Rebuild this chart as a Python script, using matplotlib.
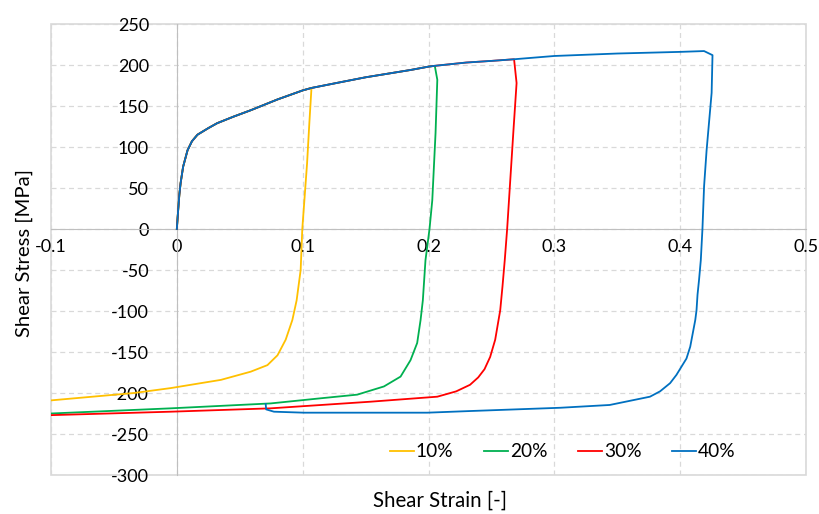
import numpy as np
import matplotlib.pyplot as plt
from matplotlib.patches import Rectangle

plt.rcParams['font.family'] = ['Lato', 'DejaVu Sans']
plt.rcParams['axes.unicode_minus'] = False

# shared monotonic loading path
load_strain = [0, 0.001, 0.002, 0.003, 0.005, 0.0085, 0.012, 0.0164, 0.025, 0.032,
               0.045, 0.059, 0.08, 0.1, 0.107, 0.13, 0.15, 0.17, 0.186, 0.2, 0.205,
               0.23, 0.25, 0.268, 0.3, 0.35, 0.4, 0.419]
load_stress = [0, 22, 42, 56, 76, 96, 107, 115, 123, 129,
               137, 145, 158, 169, 172, 179, 185, 190, 194, 198, 199,
               203, 205, 207, 211, 214, 216, 217]

# reverse branches
rev10_strain = [0.1053, 0.1035, 0.0997, 0.0984, 0.0952, 0.0918, 0.0865, 0.080, 0.072,
                0.0587, 0.035, 0.019, -0.0048, -0.034, -0.1]
rev10_stress = [129, 80, 0, -50, -87, -111, -135, -154, -166,
                -174, -184, -188, -194, -200, -209]

rev20_strain = [0.207, 0.2056, 0.203, 0.2008, 0.1976, 0.1955, 0.1937, 0.191, 0.1857,
                0.1778, 0.1646, 0.1434, 0.114, 0.0746, -0.0048, -0.1]
rev20_stress = [182, 117, 35, 0, -38, -87, -111, -139, -160,
                -180, -192, -202, -206.5, -212.7, -218.7, -225]

rev30_strain = [0.270, 0.2675, 0.265, 0.2625, 0.2606, 0.2588, 0.257, 0.253, 0.249,
                0.2445, 0.2395, 0.233, 0.222, 0.207, 0.154, 0.0746, -0.0048, -0.1]
rev30_stress = [178, 120, 60, 0, -38, -70, -99, -135, -156,
                -171, -181, -190, -198, -204.5, -210.6, -218.7, -222.8, -227]

rev40_strain = [0.4257, 0.425, 0.421, 0.419, 0.4177, 0.4164, 0.415, 0.4138, 0.413, 0.412,
                0.408, 0.405, 0.397, 0.392, 0.384, 0.376, 0.344, 0.3048, 0.233, 0.199,
                0.101, 0.0772, 0.071, 0.0706]
rev40_stress = [212, 166, 96, 52, 0, -38, -62, -80, -99, -111,
                -143.5, -158, -178, -188, -198, -204.5, -214.6, -218, -222, -224,
                -224, -222.8, -220, -213.4]

labels = ['10%', '20%', '30%', '40%']
colors = ['#FFC000', '#00B050', '#FF0000', '#0070C0']
end_idx = [15, 21, 24, 28]  # how far each test follows the loading path
reverse = [(rev10_strain, rev10_stress), (rev20_strain, rev20_stress),
           (rev30_strain, rev30_stress), (rev40_strain, rev40_stress)]

fig = plt.figure(figsize=(8.19, 5.14), dpi=100)
ax = fig.add_axes([51/819, 1-475/514, 755/819, 451/514])

for lab, col, n, (rs, rt) in zip(labels, colors, end_idx, reverse):
    xs = load_strain[:n] + rs
    ys = load_stress[:n] + rt
    ax.plot(xs, ys, color=col, lw=1.3, label=lab, zorder=3)

ax.set_xlim(-0.1, 0.5)
ax.set_ylim(-300, 250)
ax.set_xticks(np.round(np.arange(-0.1, 0.51, 0.1), 1))
ax.set_xticklabels(['-0.1', '0', '0.1', '0.2', '0.3', '0.4', '0.5'])
ax.set_yticks(np.arange(-300, 251, 50))

grid_col = '#D9D9D9'
ax.grid(True, color=grid_col, ls=(0, (4, 3)), lw=0.9, zorder=0)

# axes cross at zero like the original
ax.spines['bottom'].set_position(('data', 0))
ax.spines['left'].set_position(('data', 0))
ax.spines['bottom'].set_color('#BFBFBF')
ax.spines['left'].set_color('#BFBFBF')
ax.spines['top'].set_visible(False)
ax.spines['right'].set_visible(False)
ax.add_patch(Rectangle((0, 0), 1, 1, transform=ax.transAxes, fill=False,
                       ec=grid_col, lw=1.2, clip_on=False, zorder=1))

ax.tick_params(axis='both', length=0, labelsize=13, colors='#000000')
ax.tick_params(axis='x', pad=7)
ax.tick_params(axis='y', pad=20)

fig.text(24/819, 1 - 253/514, 'Shear Stress [MPa]', rotation=90, fontsize=14.6,
         ha='center', va='center')
fig.text(440/819, 1 - 501/514, 'Shear Strain [-]', fontsize=14.8, ha='center', va='center')

ax.legend(loc='center', bbox_to_anchor=(0.678, 0.051), ncol=4, frameon=False,
          fontsize=13.8, handlelength=1.25, handletextpad=0.1, columnspacing=1.6)

plt.savefig('out.png', dpi=100)
